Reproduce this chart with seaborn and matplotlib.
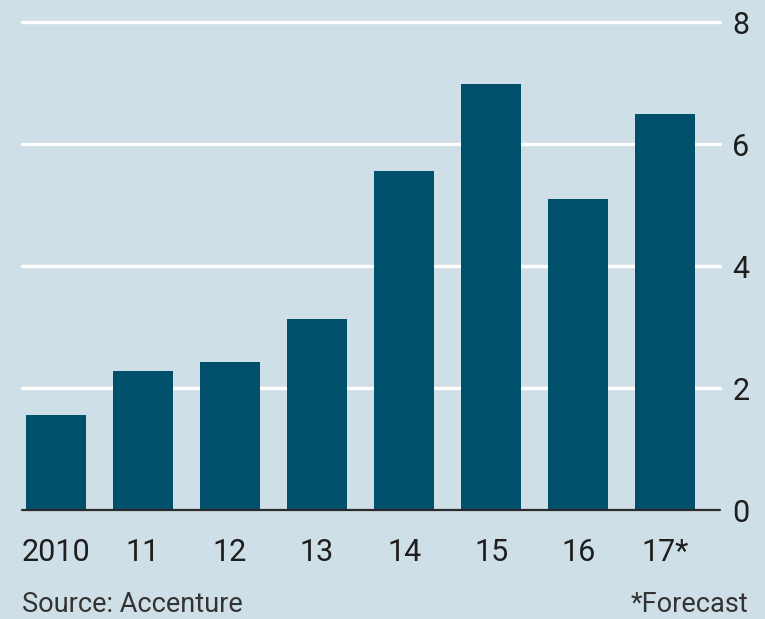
import matplotlib
matplotlib.use("Agg")
import matplotlib.pyplot as plt
import seaborn as sns
import pandas as pd

years = ["2010", "11", "12", "13", "14", "15", "16", "17*"]
values = [1.56, 2.28, 2.43, 3.13, 5.56, 6.98, 5.10, 6.49]
yticks = [0, 2, 4, 6, 8]

BG = "#cfdfe7"
BAR = "#004f6b"

sns.set_theme(style="white")
plt.rcParams["font.family"] = ["Roboto", "DejaVu Sans"]

df = pd.DataFrame({"year": years, "value": values})

W, H = 765, 619
fig = plt.figure(figsize=(W / 100, H / 100), dpi=100)
fig.patch.set_facecolor(BG)
ax = fig.add_axes([22 / W, (H - 510) / H, (720 - 22) / W, (510 - 22) / H])
ax.set_facecolor(BG)

sns.barplot(data=df, x="year", y="value", color=BAR, width=0.69,
            saturation=1, linewidth=0, edgecolor=BAR, ax=ax, zorder=3)

ax.set_xlim(-0.39, 7.63)
ax.set_ylim(0, 8)
ax.set_yticks(yticks)
for t in yticks[1:]:
    ax.axhline(t, color="white", lw=2.4, zorder=1, clip_on=False)
ax.axhline(0, color="#2b2b2b", lw=1.6, zorder=4, clip_on=False)

for s in ax.spines.values():
    s.set_visible(False)
ax.yaxis.tick_right()
ax.tick_params(axis="y", length=0, pad=9, labelsize=22, labelcolor="#1e1e1e")
ax.tick_params(axis="x", length=0, pad=20, labelsize=22, labelcolor="#1e1e1e")
ax.set_xlabel("")
ax.set_ylabel("")
ax.grid(False)

fig.text(22 / W, 1 - 605 / H, "Source: Accenture", fontsize=19.5, color="#333333",
         ha="left", va="center")
fig.text(748 / W, 1 - 605 / H, "*Forecast", fontsize=19.5, color="#333333",
         ha="right", va="center")

fig.savefig("out.png", dpi=100, facecolor=BG)
